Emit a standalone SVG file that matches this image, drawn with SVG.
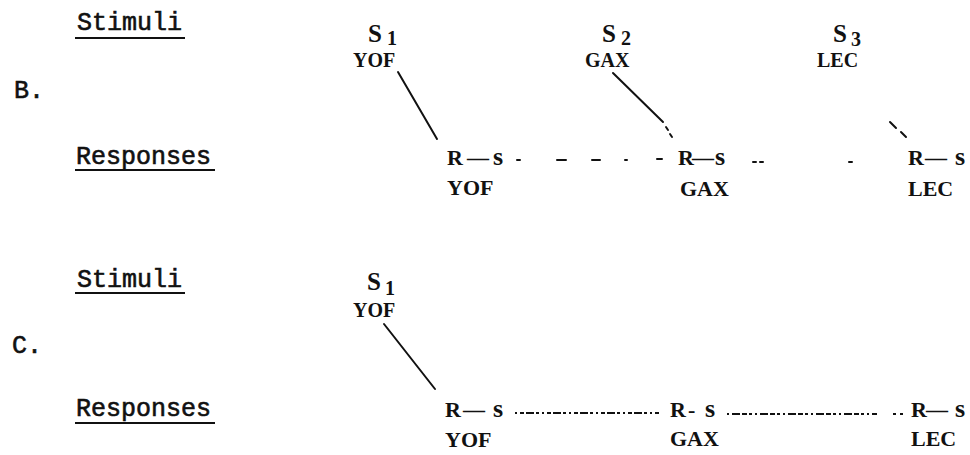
<svg xmlns="http://www.w3.org/2000/svg" width="970" height="455" viewBox="0 0 970 455">
<style>
.mono{font-family:"Liberation Mono","DejaVu Sans Mono",monospace;font-size:25px;fill:#111;stroke:#111;stroke-width:0.6;}
.ser{font-family:"Liberation Serif","DejaVu Serif",serif;font-size:20px;font-weight:bold;fill:#111;}
.lo{font-size:22px;}
.big{font-size:25px;}
.sm{font-size:26px;}
.ul{stroke:#111;stroke-width:2.2;fill:none;}
.ln{stroke:#111;stroke-width:2;fill:none;stroke-linecap:round;}
.dot{stroke:#111;stroke-width:1.8;fill:none;}
</style>
<rect width="970" height="455" fill="#fff"/>
<g id="labels">
  <text class="mono" x="77" y="30">Stimuli</text>
  <line class="ul" x1="75" y1="38" x2="185" y2="38"/>
  <text class="mono" x="14" y="98">B.</text>
  <text class="mono" x="76" y="164">Responses</text>
  <line class="ul" x1="75" y1="170" x2="215" y2="170"/>
  <text class="mono" x="77" y="287">Stimuli</text>
  <line class="ul" x1="75" y1="293" x2="185" y2="293"/>
  <text class="mono" x="12" y="353">C.</text>
  <text class="mono" x="76" y="416">Responses</text>
  <line class="ul" x1="75" y1="423" x2="215" y2="423"/>
</g>
<g id="B-S1"><text class="ser"><tspan class="big" x="368" y="42">S</tspan><tspan x="387" y="45">1</tspan></text><text class="ser" x="353" y="67">YOF</text></g>
<g id="B-S2"><text class="ser"><tspan class="big" x="602" y="42">S</tspan><tspan x="621" y="45">2</tspan></text><text class="ser" x="585" y="67">GAX</text></g>
<g id="B-S3"><text class="ser"><tspan class="big" x="833" y="42">S</tspan><tspan x="851" y="46">3</tspan></text><text class="ser" x="817" y="67">LEC</text></g>
<g id="B-R1"><text class="ser lo" y="165"><tspan x="447">R</tspan><tspan x="467">—</tspan><tspan class="sm" x="493">s</tspan></text><text class="ser lo" x="447" y="195">YOF</text></g>
<g id="B-R2"><text class="ser lo" y="165"><tspan x="678">R</tspan><tspan x="692">—</tspan><tspan class="sm" x="715">s</tspan></text><text class="ser lo" x="680" y="196">GAX</text></g>
<g id="B-R3"><text class="ser lo" y="165"><tspan x="908">R</tspan><tspan x="925">—</tspan><tspan class="sm" x="955">s</tspan></text><text class="ser lo" x="908" y="196">LEC</text></g>
<g id="C-S1"><text class="ser"><tspan class="big" x="367" y="290">S</tspan><tspan x="385" y="295">1</tspan></text><text class="ser" x="353" y="317">YOF</text></g>
<g id="C-R1"><text class="ser lo" y="417"><tspan x="445">R</tspan><tspan x="463">—</tspan><tspan class="sm" x="493">s</tspan></text><text class="ser lo" x="445" y="447">YOF</text></g>
<g id="C-R2"><text class="ser lo" y="417"><tspan x="670">R</tspan><tspan x="688">-</tspan><tspan class="sm" x="705">s</tspan></text><text class="ser lo" x="670" y="446">GAX</text></g>
<g id="C-R3"><text class="ser lo" y="417"><tspan x="911">R</tspan><tspan x="926">—</tspan><tspan class="sm" x="955">s</tspan></text><text class="ser lo" x="911" y="446">LEC</text></g>
<g id="connectors">
  <line class="ln" x1="398" y1="72" x2="437" y2="139"/>
  <path class="ln" d="M613 73 L663 122 M666 127 L668 130 M670 134 L672 137"/>
  <path class="ln" d="M890 122 L896 128 M901 132 L906 137"/>
  <path class="ln" d="M517 160 L520 160 M557 160 L566 160 M592 160 L600 160 M625 160 L627 160 M657 159 L662 159 M753 162 L756 162 M760 162 L763 162 M849 162 L852 162"/>
  <line class="ln" x1="384" y1="324" x2="435" y2="389"/>
  <path class="dot" d="M515 413 L660 413" stroke-dasharray="2 3 4 2 8 2 3 3"/>
  <path class="dot" d="M727 414 L877 414" stroke-dasharray="2 3 8 2 5 2 3 3"/>
  <path class="dot" d="M893 414 L896 414 M900 414 L903 414"/>
</g>
</svg>
